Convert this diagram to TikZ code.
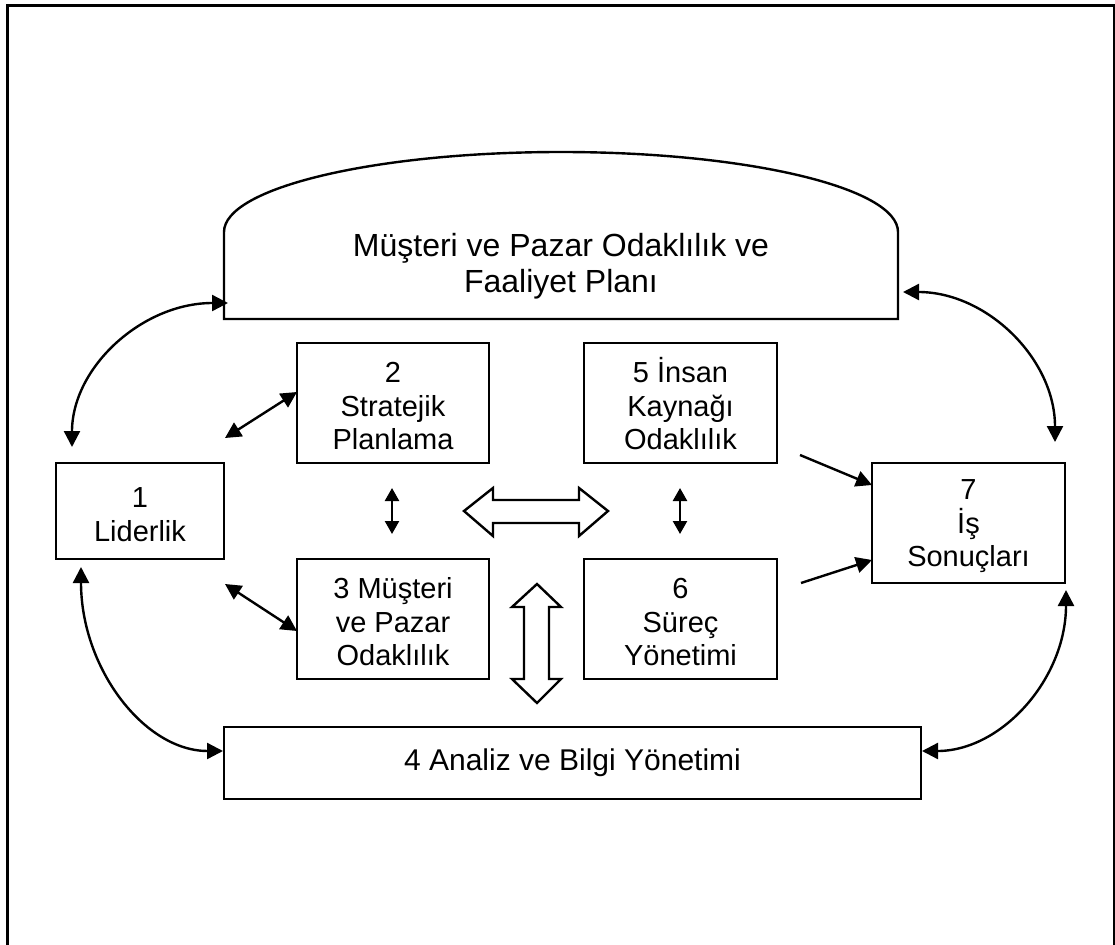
\documentclass[tikz,border=0pt]{standalone}
\usepackage{fontspec}
\setmainfont{Liberation Sans}
\usetikzlibrary{arrows.meta}
\newcommand{\tstrut}{\rule{0pt}{27pt}}
\begin{document}
\begin{tikzpicture}[x=1pt,y=-1pt,
  box/.style={draw,line width=2.4pt,inner sep=0pt,align=center,
    font=\fontsize{29}{33.5}\selectfont},
  conn/.style={line width=2.4pt,{Triangle[length=16pt,width=16pt]}-{Triangle[length=16pt,width=16pt]}},
  oneway/.style={line width=2.4pt,-{Triangle[length=16pt,width=16pt]}},
  small/.style={line width=2.4pt,{Triangle[length=13pt,width=14pt]}-{Triangle[length=13pt,width=14pt]}},
  block/.style={draw,line width=2.4pt,fill=white,line join=miter}]
\useasboundingbox (0,0) rectangle (1115,944);
\clip (0,0) rectangle (1115,944);
% outer frame
\draw[line width=3pt] (7,960) -- (7,6) -- (1114,6) -- (1114,960);
% top shape
\draw[line width=2.4pt] (224,319) -- (224,232) arc[start angle=180,end angle=0,x radius=337,y radius=-80] -- (898,319) -- cycle;
\node[align=center,font=\fontsize{32}{36}\selectfont] (top) at (561,266) {Müşteri ve Pazar Odaklılık ve\\Faaliyet Planı};
% boxes
\node[box,minimum width=168pt,minimum height=96pt] (b1) at (140,511) {\tstrut 1\\Liderlik};
\node[box,minimum width=192pt,minimum height=120pt] (b2) at (393,403) {\tstrut 2\\Stratejik\\Planlama};
\node[box,minimum width=192pt,minimum height=120pt] (b3) at (393,619) {\tstrut 3 Müşteri\\ve Pazar\\Odaklılık};
\node[box,minimum width=193pt,minimum height=120pt] (b5) at (680.5,403) {\tstrut 5 İnsan\\Kaynağı\\Odaklılık};
\node[box,minimum width=193pt,minimum height=120pt] (b6) at (680.5,619) {\tstrut 6\\Süreç\\Yönetimi};
\node[box,minimum width=193pt,minimum height=120pt] (b7) at (968.5,523) {\tstrut 7\\İş\\Sonuçları};
\node[box,minimum width=697pt,minimum height=72pt,font=\fontsize{30}{34}\selectfont] (b4) at (572.5,763) {4 Analiz ve Bilgi Yönetimi};
% connector end points
\coordinate (tl) at (228,303);
\coordinate (tr) at (903,292);
\coordinate (b1t) at (72,447);
\coordinate (b1b) at (81,567);
\coordinate (b4l) at (223,751);
\coordinate (b4r) at (922,751);
\coordinate (b7t) at (1055,442);
\coordinate (b7b) at (1066,590);
\coordinate (b1ne) at (225,438);
\coordinate (b1se) at (225,584);
\coordinate (b2w) at (297,392);
\coordinate (b3w) at (297,631);
\coordinate (s1a) at (392,488);
\coordinate (s1b) at (392,534);
\coordinate (s2a) at (680,488);
\coordinate (s2b) at (680,534);
\coordinate (b5o) at (800,455);
\coordinate (b6o) at (801,583);
\coordinate (b7a) at (872,485);
\coordinate (b7c) at (872,560);
% curved connectors
\draw[conn] (b1t) .. controls (72,367.5) and (141.9,303) .. (tl);
\draw[conn] (tr) .. controls (987,292) and (1055,359) .. (b7t);
\draw[conn] (b1b) .. controls (81,668.6) and (144.6,751) .. (b4l);
\draw[conn] (b7b) .. controls (1066,678.9) and (1001.5,751) .. (b4r);
% straight connectors
\draw[conn] (b1ne) -- (b2w);
\draw[conn] (b1se) -- (b3w);
\draw[small] (s1a) -- (s1b);
\draw[small] (s2a) -- (s2b);
\draw[oneway] (b5o) -- (b7a);
\draw[oneway] (b6o) -- (b7c);
% block arrows
\draw[block] (464,511) -- (493,488) -- (493,500) -- (579,500) -- (579,488) -- (608,511)
  -- (579,536) -- (579,523) -- (493,523) -- (493,536) -- cycle;
\draw[block] (537,584) -- (561,607) -- (549,607) -- (549,679) -- (561,679) -- (537,703)
  -- (512,679) -- (524,679) -- (524,607) -- (512,607) -- cycle;
\end{tikzpicture}
\end{document}
